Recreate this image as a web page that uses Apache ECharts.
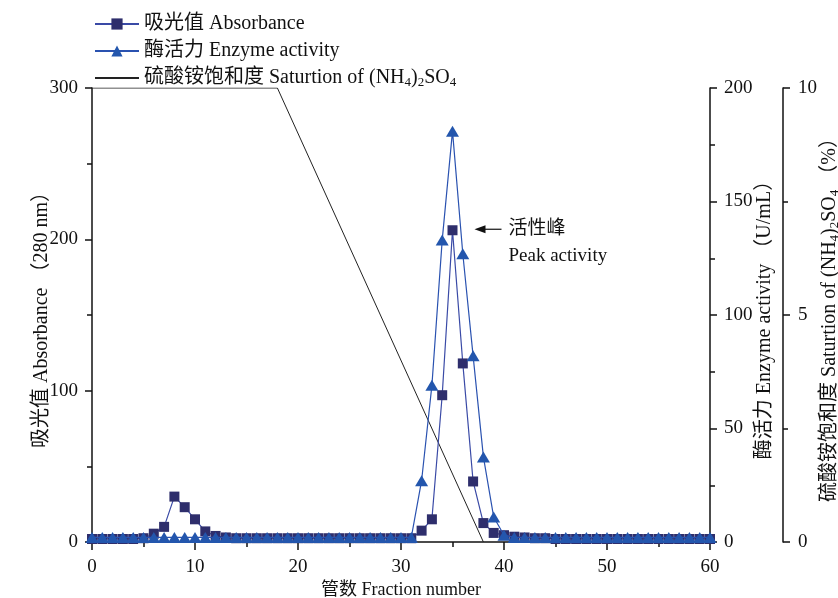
<!DOCTYPE html>
<html>
<head>
<meta charset="utf-8">
<script src="https://cdn.jsdelivr.net/npm/echarts@6/dist/echarts.min.js"></script>
<style>
html,body{margin:0;padding:0;background:#fff;}
#chart{width:838px;height:598px;}
</style>
</head>
<body>
<div id="chart"></div>
<script>
// Fraction numbers (x)
const fractions = [0,1,2,3,4,5,6,7,8,9,10,11,12,13,14,15,16,17,18,19,20,21,22,23,24,25,26,27,28,29,30,
  31,32,33,34,35,36,37,38,39,40,41,42,43,44,45,46,47,48,49,50,51,52,53,54,55,56,57,58,59,60];
// Absorbance (280 nm), left axis
const absorbance = [2,2,2,2,2,2.5,5.5,10,30,23,15,7,4,3,
  2.5,2.5,2.5,2.5,2.5,2.5,2.5,2.5,2.5,2.5,2.5,2.5,2.5,2.5,2.5,2.5,2.5,2.5,
  7.5,15,97,206,118,40,12.5,6,4.5,3.5,3,2.5,2.5,
  2,2,2,2,2,2,2,2,2,2,2,2,2,2,2,2];
// Enzyme activity (U/mL), right axis 1
const enzyme = [2,2,2,2,2,2,2,2,2,2,2,2,2,2,2,2,2,2,2,2,2,2,2,2,2,2,2,2,2,2,2,2,
  27,69,133,181,127,82,37.5,11,3,
  2,2,2,2,2,2,2,2,2,2,2,2,2,2,2,2,2,2,2,2];
// Saturation of (NH4)2SO4 (%), right axis 2
const satX = [0,18,38];
const satY = [10,10,0];

const leftTicks = {min:0,max:300,interval:100};
const right1Ticks = {min:0,max:200,interval:50};
const right2Ticks = {min:0,max:10,interval:5};
const xTicks = {min:0,max:60,interval:10};

const FONT = '"Liberation Serif","Noto Sans CJK SC",serif';
function richFor(size){
  return {
    n:{fontFamily:FONT,fontSize:size,color:'#111'},
    sub:{fontFamily:FONT,fontSize:Math.round(size*0.65),color:'#111',verticalAlign:'bottom',padding:[Math.round(size*0.5),0,0,0]}
  };
}

const names = {
  abs:'吸光值 Absorbance',
  enz:'酶活力 Enzyme activity',
  sat:'硫酸铵饱和度 Saturtion of (NH4)2SO4'
};

const chart = echarts.init(document.getElementById('chart'));

function yAxisCommon(){
  return {
    type:'value',
    splitLine:{show:false},
    axisLine:{show:true,lineStyle:{color:'#111',width:1.5}},
    axisTick:{show:true,inside:false,length:7,lineStyle:{color:'#111',width:1.5}},
    minorTick:{show:true,splitNumber:2,length:5,lineStyle:{color:'#111',width:1.5}},
    axisLabel:{fontFamily:FONT,fontSize:19,color:'#111',margin:14},
    nameLocation:'middle',nameMoveOverlap:false,
    nameTextStyle:{fontFamily:FONT,fontSize:20,color:'#111',rich:richFor(20)}
  };
}

const option = {
  animation:false,
  backgroundColor:'#fff',
  grid:{left:92,right:128,top:88,bottom:56,containLabel:false,outerBoundsMode:'none'},
  legend:{
    orient:'vertical',left:94,top:14,padding:0,itemWidth:44,itemHeight:14,itemGap:7,
    data:[names.abs,names.enz,{name:names.sat,itemStyle:{opacity:0}}],
    textStyle:{fontFamily:FONT,fontSize:20,color:'#111',rich:richFor(20)},
    formatter:function(n){
      if(n===names.sat){return '{n|硫酸铵饱和度 Saturtion of (NH}{sub|4}{n|)}{sub|2}{n|SO}{sub|4}';}
      return n;
    }
  },
  xAxis:{
    type:'value',min:xTicks.min,max:xTicks.max,interval:xTicks.interval,
    splitLine:{show:false},
    axisLine:{lineStyle:{color:'#111',width:1.5}},
    axisTick:{length:8,lineStyle:{color:'#111',width:1.5}},
    minorTick:{show:true,splitNumber:2,length:5,lineStyle:{color:'#111',width:1.5}},
    axisLabel:{fontFamily:FONT,fontSize:19,color:'#111',margin:16},
    name:'管数 Fraction number',nameLocation:'middle',nameGap:39,nameMoveOverlap:false,
    nameTextStyle:{fontFamily:FONT,fontSize:18,color:'#111'}
  },
  yAxis:[
    Object.assign(yAxisCommon(),{
      position:'left',min:leftTicks.min,max:leftTicks.max,interval:leftTicks.interval,
      name:'吸光值 Absorbance （280 nm）',nameGap:40,nameRotate:90
    }),
    Object.assign(yAxisCommon(),{
      position:'right',min:right1Ticks.min,max:right1Ticks.max,interval:right1Ticks.interval,
      name:'酶活力 Enzyme activity （U/mL）',nameGap:45,nameRotate:90
    }),
    Object.assign(yAxisCommon(),{
      position:'right',offset:73,min:right2Ticks.min,max:right2Ticks.max,interval:right2Ticks.interval,
      name:'{n|硫酸铵饱和度 Saturtion of (NH}{sub|4}{n|)}{sub|2}{n|SO}{sub|4}{n| （%）}',
      nameGap:35,nameRotate:90,
      axisLabel:{fontFamily:FONT,fontSize:19,color:'#111',margin:15}
    })
  ],
  series:[
    {
      name:names.sat,type:'line',yAxisIndex:2,symbol:'none',z:1,
      data:satX.map((x,i)=>[x,satY[i]]),
      lineStyle:{color:'#222',width:1},itemStyle:{color:'#222'}
    },
    {
      name:names.abs,type:'line',yAxisIndex:0,symbol:'rect',symbolSize:10,z:2,
      data:fractions.map((x,i)=>[x,absorbance[i]]),
      lineStyle:{color:'#3a4aa6',width:1.2},
      itemStyle:{color:'#2e2e6c',borderWidth:0}
    },
    {
      name:names.enz,type:'line',yAxisIndex:1,symbol:'triangle',symbolSize:[13,11],z:3,
      data:fractions.map((x,i)=>[x,enzyme[i]]),
      lineStyle:{color:'#2a52b0',width:1.2},
      itemStyle:{color:'#2356ad',borderWidth:0}
    }
  ]
};
chart.setOption(option);

// annotation "活性峰 / Peak activity" pointing at absorbance peak
const peakIdx = absorbance.indexOf(Math.max.apply(null,absorbance));
const p = chart.convertToPixel({gridIndex:0},[fractions[peakIdx],0]);
const py = chart.convertToPixel({yAxisIndex:0},absorbance[peakIdx]);
const ax = p[0]+22, ay = py-1;
chart.setOption({
  graphic:[
    {type:'line',shape:{x1:ax+4,y1:ay,x2:ax+27,y2:ay},style:{stroke:'#111',lineWidth:1.2}},
    {type:'polygon',shape:{points:[[ax,ay],[ax+11,ay-4],[ax+11,ay+4]]},style:{fill:'#111'}},
    {type:'text',x:ax+34,y:ay,style:{text:'活性峰',font:'19px '+FONT,fill:'#111',verticalAlign:'middle'}},
    {type:'text',x:ax+34,y:ay+27,style:{text:'Peak activity',font:'19px '+FONT,fill:'#111',verticalAlign:'middle'}}
  ]
});
</script>
</body>
</html>
